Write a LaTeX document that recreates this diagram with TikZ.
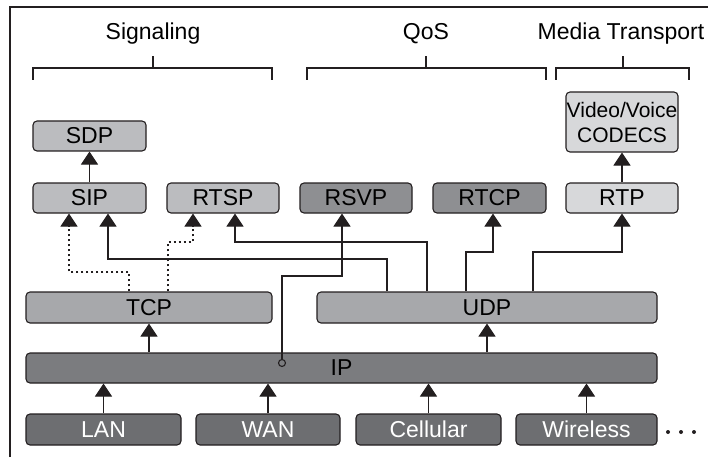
\documentclass[tikz,border=0pt]{standalone}
\usepackage{fontspec}
\setmainfont{Liberation Sans}
\usetikzlibrary{arrows.meta}
\definecolor{bord}{HTML}{231F20}
\definecolor{cSig}{HTML}{BBBCBF}
\definecolor{cQos}{HTML}{8E8F92}
\definecolor{cMed}{HTML}{D7D8DA}
\definecolor{cTra}{HTML}{A7A8AB}
\definecolor{cIP}{HTML}{7B7C7F}
\definecolor{cLink}{HTML}{6D6E71}
\tikzset{
  box/.style={draw=bord, line width=1.1pt, rounded corners=4pt, inner sep=0pt,
    minimum height=30pt, font=\fontsize{23}{26}\selectfont},
  title/.style={font=\fontsize{23}{26}\selectfont, inner sep=0pt},
  conn/.style={draw=bord, line width=1.1pt},
  arr/.style={conn, -{Triangle[width=17pt,length=13pt]}},
  dotconn/.style={arr, dash pattern=on 2.5pt off 2.5pt},
  brk/.style={draw=bord, line width=1.1pt},
}
\begin{document}
\begin{tikzpicture}[x=1pt,y=-1pt]
\useasboundingbox (0,0) rectangle (708,457);
\draw[bord, line width=1.4pt] (10,457) -- (10,7) -- (708,7);

% titles
\node[title] (tsig) at (153,34) {Signaling};
\node[title] (tqos) at (426,34) {QoS};
\node[title] (tmed) at (621,34) {Media Transport};

% brackets
\draw[brk] (33,80) -- (33,68) -- (272,68) -- (272,80);
\draw[brk] (153,68) -- (153,56);
\draw[brk] (307,80) -- (307,68) -- (546,68) -- (546,80);
\draw[brk] (426,68) -- (426,56);
\draw[brk] (556,80) -- (556,68) -- (689,68) -- (689,80);
\draw[brk] (623,68) -- (623,56);

% boxes
\node[box, fill=cSig, minimum width=113pt] (sdp) at (89.5,136) {SDP};
\node[box, fill=cSig, minimum width=113pt] (sip) at (89.5,198) {SIP};
\node[box, fill=cSig, minimum width=112pt] (rtsp) at (223,198) {RTSP};
\node[box, fill=cQos, minimum width=112pt] (rsvp) at (356,198) {RSVP};
\node[box, fill=cQos, minimum width=113pt] (rtcp) at (489.5,198) {RTCP};
\node[box, fill=cMed, minimum width=112pt] (rtp) at (622,198) {RTP};
\node[box, fill=cMed, minimum width=112pt, minimum height=60pt, align=center,
      font=\fontsize{21}{25}\selectfont] (codec) at (622,122) {Video/Voice\\CODECS};
\node[box, fill=cTra, minimum width=246pt, minimum height=31pt] (tcp) at (149,307.5) {TCP};
\node[box, fill=cTra, minimum width=340pt, minimum height=31pt] (udp) at (487,307.5) {UDP};
\node[box, fill=cIP, minimum width=631pt] (ip) at (341.5,368) {IP};
\node[box, fill=cLink, text=white, minimum width=155pt, minimum height=31pt] (lan) at (103.5,429.5) {LAN};
\node[box, fill=cLink, text=white, minimum width=144pt, minimum height=31pt] (wan) at (268,429.5) {WAN};
\node[box, fill=cLink, text=white, minimum width=145pt, minimum height=31pt] (cell) at (428.5,429.5) {Cellular};
\node[box, fill=cLink, text=white, minimum width=141pt, minimum height=31pt] (wire) at (586.5,429.5) {Wireless};

% dots
\foreach \xx in {668,681,694} \fill[bord] (\xx,432) circle (2pt);

% vertical arrows
\draw[arr] (sip.north) -- (sdp.south);
\draw[arr] (rtp.north) -- (codec.south);
\draw[arr] (lan.north) -- (ip.south -| lan.north);
\draw[arr] (wan.north) -- (ip.south -| wan.north);
\draw[arr] (cell.north) -- (ip.south -| cell.north);
\draw[arr] (wire.north) -- (ip.south -| wire.north);
\draw[arr] (ip.north -| tcp.south) -- (tcp.south);
\draw[arr] (ip.north -| udp.south) -- (udp.south);

% dotted TCP connectors
\coordinate (d1) at (129,272);
\coordinate (d2) at (69,272);
\coordinate (d3) at (168,242);
\coordinate (d4) at (193,242);
\draw[dotconn] (tcp.north -| d1) -- (d1) -- (d2) -- (sip.south -| d2);
\draw[dotconn] (tcp.north -| d3) -- (d3) -- (d4) -- (rtsp.south -| d4);

% UDP connectors
\coordinate (u1) at (387,259);
\coordinate (u2) at (108,259);
\coordinate (u3) at (427,242);
\coordinate (u4) at (235,242);
\coordinate (u5) at (466,252);
\coordinate (u6) at (493,252);
\coordinate (u7) at (533,252);
\coordinate (u8) at (622,252);
\draw[arr] (udp.north -| u1) -- (u1) -- (u2) -- (sip.south -| u2);
\draw[arr] (udp.north -| u3) -- (u3) -- (u4) -- (rtsp.south -| u4);
\draw[arr] (udp.north -| u5) -- (u5) -- (u6) -- (rtcp.south -| u6);
\draw[arr] (udp.north -| u7) -- (u7) -- (u8) -- (rtp.south -| u8);

% IP to RSVP
\coordinate (ipc) at (282,363);
\coordinate (r1) at (282,276);
\coordinate (r2) at (342,276);
\draw[arr] ([yshift=3.5pt]ipc) -- (r1) -- (r2) -- (rsvp.south -| r2);
\draw[draw=bord, fill=cIP, line width=1.1pt] (ipc) circle (3.5pt);
\end{tikzpicture}
\end{document}
